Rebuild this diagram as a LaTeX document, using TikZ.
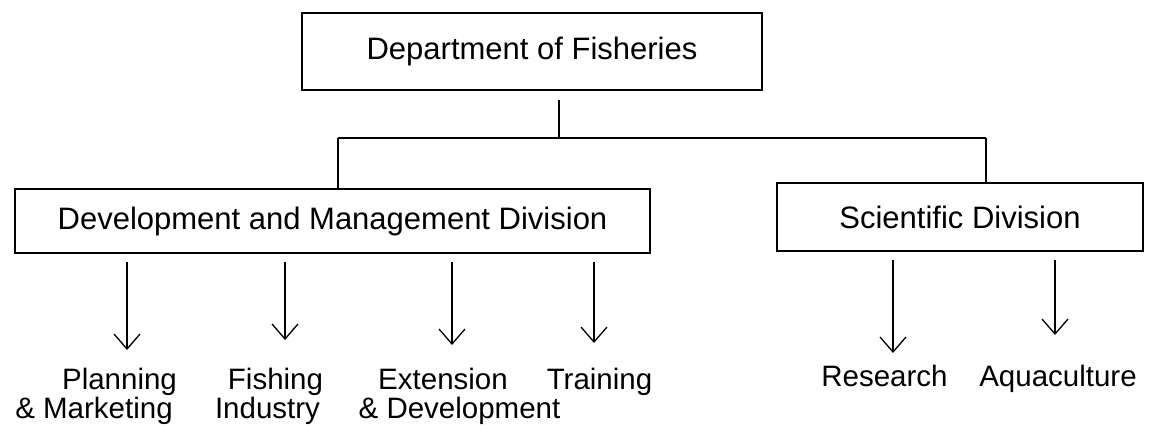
\documentclass[tikz,border=0pt]{standalone}
\usepackage{fontspec}
\setmainfont{Liberation Sans}
\usetikzlibrary{arrows.meta}
\begin{document}
\begin{tikzpicture}[x=1pt,y=-1pt,
  box/.style={draw,line width=1.3pt,inner sep=0pt,font=\fontsize{31}{36}\selectfont},
  lbl/.style={inner sep=0pt,anchor=base,font=\fontsize{29.5}{36}\selectfont},
  line/.style={line width=1.3pt},
  arr/.style={line width=1.3pt,-{Straight Barb[length=15pt,width=26pt,line width=1.3pt]},shorten <=8pt}]
\useasboundingbox (0,0) rectangle (1151,427);
% boxes
\node[box,minimum width=460pt,minimum height=77pt] (top) at (532,51.5) {Department of Fisheries};
\node[box,minimum width=635pt,minimum height=64pt] (dm) at (332.5,221) {Development and Management Division};
\node[box,minimum width=366pt,minimum height=68pt] (sd) at (960,217) {Scientific Division};
% tree connectors
\coordinate (j) at (559,138);
\coordinate (jl) at (338,138);
\coordinate (jr) at (986,138);
\draw[line,shorten <=9pt] (top.south -| j) -- (j);
\draw[line] (jl) -- (jr);
\draw[line] (jl) -- (dm.north -| jl);
\draw[line] (jr) -- (sd.north -| jr);
% arrow tips
\coordinate (t1) at (127,350);
\coordinate (t2) at (285,340);
\coordinate (t3) at (452,345);
\coordinate (t4) at (594,343);
\coordinate (t5) at (893,353);
\coordinate (t6) at (1055,335);
\draw[arr] (dm.south -| t1) -- (t1);
\draw[arr] (dm.south -| t2) -- (t2);
\draw[arr] (dm.south -| t3) -- (t3);
\draw[arr] (dm.south -| t4) -- (t4);
\draw[arr] (sd.south -| t5) -- (t5);
\draw[arr] (sd.south -| t6) -- (t6);
% labels
\node[lbl] (pl1) at (119.5,389) {Planning};
\node[lbl] (pl2) at (94,418) {\& Marketing};
\node[lbl] (fi1) at (275.5,389) {Fishing};
\node[lbl] (fi2) at (267.5,418) {Industry};
\node[lbl] (ex1) at (443,389) {Extension};
\node[lbl] (ex2) at (459.5,418) {\& Development};
\node[lbl] (tr) at (599.5,389) {Training};
\node[lbl] (re) at (884.5,386) {Research};
\node[lbl] (aq) at (1058,386) {Aquaculture};
\end{tikzpicture}
\end{document}
